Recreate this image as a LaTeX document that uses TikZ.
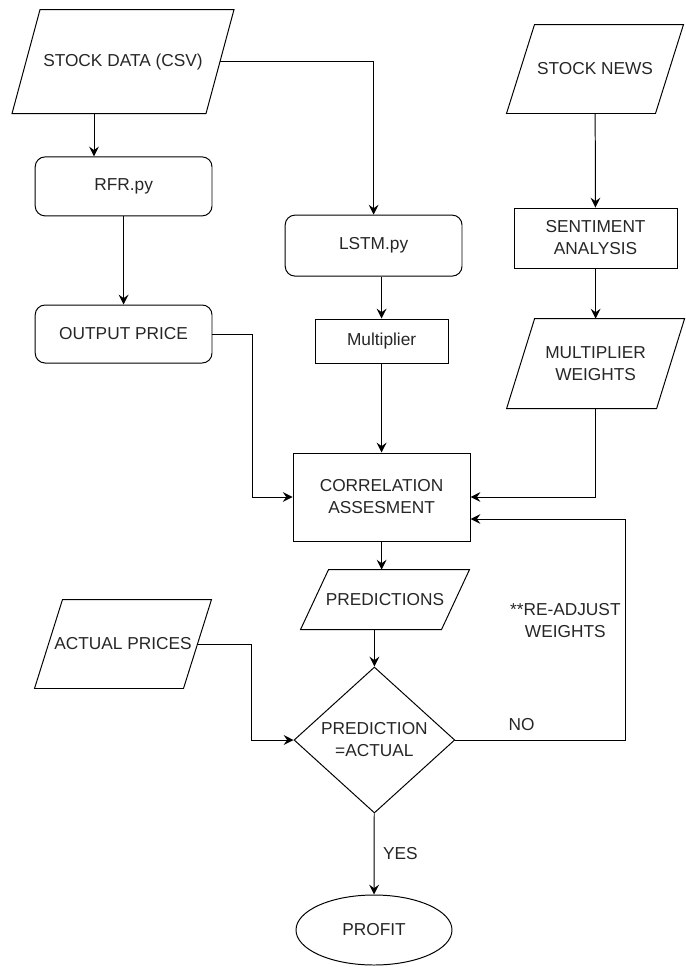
\documentclass[tikz,border=0pt]{standalone}
\usepackage{fontspec}
\setmainfont{Liberation Sans}
\usetikzlibrary{arrows.meta, positioning, shapes.geometric, calc}

\begin{document}
\begin{tikzpicture}[
    % 1. Base style shared by every shape
    base/.style={
        draw=black, line width=0.7pt, align=center, inner sep=0pt,
        font=\fontsize{12.3}{15.6}\selectfont, text=black!85
    },
    % 2. Shapes of the flow chart
    proc/.style={base, rectangle, rounded corners=7pt, minimum width=4.42cm, minimum height=1.5cm},
    box/.style={base, rectangle},
    % parallelogram: the node box is the slanted body, the outline leans 0.35cm each way
    io/.style={base, draw=none, rectangle, minimum width=3.7cm, minimum height=2.2cm,
        append after command={\pgfextra{
            \draw[line width=0.7pt, line join=miter]
                ([xshift=-0.35cm]\tikzlastnode.south west) -- ([xshift=-0.35cm]\tikzlastnode.south east)
                -- ([xshift=0.35cm]\tikzlastnode.north east) -- ([xshift=0.35cm]\tikzlastnode.north west)
                -- cycle;
        }}
    },
    decision/.style={base, diamond, aspect=1.1, minimum width=4.02cm, minimum height=3.65cm},
    term/.style={base, ellipse, minimum width=3.9cm, minimum height=1.75cm},
    % 3. Connectors
    arrow/.style={
        -{Stealth[length=7pt, width=7pt, inset=2.5pt]},
        line width=0.7pt, color=black
    },
    % 4. Text on the connectors
    tag/.style={font=\fontsize{12.3}{15.6}\selectfont, text=black!85, align=center, inner sep=2pt}
]
    \useasboundingbox (0,0) rectangle (17.15,-24.175);

    % --- COLUMN 1 ---
    \node[io, minimum width=4.825cm, minimum height=2.575cm] (data) at (3.075, -1.54) {STOCK DATA (CSV)};
    \node[proc, minimum height=1.475cm] (rfr) at (3.09, -4.66) {RFR.py};
    \node[proc, minimum height=1.45cm] (out) at (3.09, -8.35) {OUTPUT PRICE};

    \coordinate (rfrin) at ([xshift=-7.4mm]rfr.north);
    \draw[arrow] (data.south -| rfrin) -- (rfrin);
    \draw[arrow] (rfr) -- (out);

    % --- COLUMN 2 ---
    \node[proc, minimum height=1.525cm] (lstm) at (9.34, -6.14) {LSTM.py};
    \node[box, minimum width=3.325cm, minimum height=1.1cm] (mult) at (9.54, -8.525) {Multiplier};

    \draw[arrow] (data.east) -| (lstm.north);
    \draw[arrow] (lstm.south -| mult.north) -- (mult.north);

    % --- COLUMN 3 ---
    \node[io] (news) at (14.875, -1.725) {STOCK NEWS};
    \node[box, minimum width=4.075cm, minimum height=1.5cm] (senti) at (14.89, -5.95) {SENTIMENT\\ANALYSIS};
    \node[io, minimum width=3.725cm, minimum height=2.225cm] (weights) at (14.89, -9.09) {MULTIPLIER\\WEIGHTS};

    \draw[arrow] (news) -- (senti);
    \draw[arrow] (senti) -- (weights);

    % --- CORRELATION ---
    \node[box, minimum width=4.425cm, minimum height=2.2cm] (corr) at (9.54, -12.425) {CORRELATION\\ASSESMENT};
    \node[io, minimum width=3.5cm, minimum height=1.475cm] (pred) at (9.625, -14.99) {PREDICTIONS};
    \node[io] (actual) at (3.075, -16.1) {ACTUAL PRICES};

    \draw[arrow] (mult) -- (corr);
    \draw[arrow] (out.east) -- ++(1,0) |- (corr.west);
    \draw[arrow] (weights.south) |- (corr.east);
    \draw[arrow] (corr.south) -- (corr.south |- pred.north);

    % --- DECISION ---
    \node[decision] (dia) at (9.36, -18.5) {PREDICTION\\=ACTUAL};
    \node[term] (profit) at (9.35, -23.25) {PROFIT};

    \draw[arrow] (dia.north |- pred.south) -- (dia.north);
    \draw[arrow] (actual.east) -- ++(1.36,0) |- (dia.west);
    \draw[arrow] (dia.east) -- node[tag, pos=.39, above=4pt] {NO} ++(4.25,0)
        |- node[tag, pos=.27, left=1pt] {**RE-ADJUST\\WEIGHTS} ([yshift=-5.5mm]corr.east);
    \draw[arrow] (dia) -- node[tag, right=4pt] {YES} (profit);

\end{tikzpicture}
\end{document}
